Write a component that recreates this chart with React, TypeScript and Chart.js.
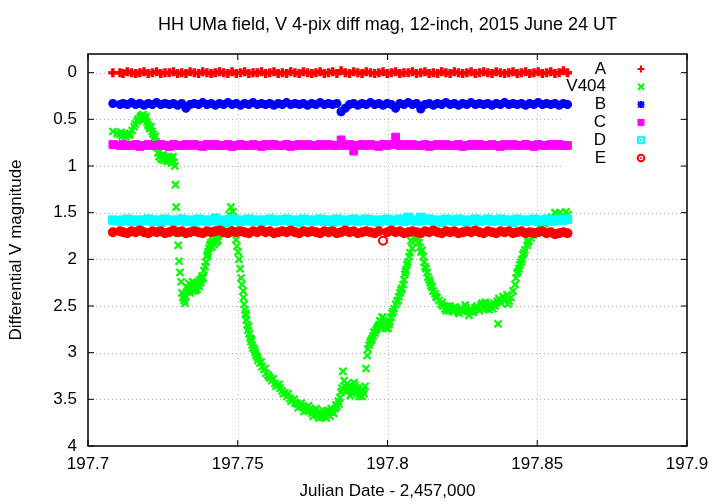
import React, { useEffect, useRef } from 'react';
import { Chart, registerables } from 'chart.js';

Chart.register(...registerables);

const TITLE = 'HH UMa field, V 4-pix diff mag, 12-inch, 2015 June 24 UT';
const X_TITLE = 'Julian Date - 2,457,000';
const Y_TITLE = 'Differential V magnitude';

const xTicks = [197.7, 197.75, 197.8, 197.85, 197.9];
const xTickLabels = ['197.7', '197.75', '197.8', '197.85', '197.9'];
const yTicks = [0, 0.5, 1, 1.5, 2, 2.5, 3, 3.5, 4];
const yTickLabels = ['0', '0.5', '1', '1.5', '2', '2.5', '3', '3.5', '4'];

const seriesNames = ['A', 'V404', 'B', 'C', 'D', 'E'];
const seriesColors = ['#ff0000', '#00ff00', '#0000ff', '#ff00ff', '#00ffff', '#ff0000'];

// observation times of the comparison-star measurements (JD - 2,457,000)
const compTimes = [
  197.7083, 197.7107, 197.7117, 197.7131, 197.7145, 197.7159, 197.7173, 197.7187, 197.7201, 197.7215,
  197.7229, 197.7243, 197.7257, 197.7271, 197.7285, 197.7299, 197.7313, 197.7327, 197.7341, 197.7355,
  197.7369, 197.7383, 197.7397, 197.7411, 197.7425, 197.7439, 197.7453, 197.7467, 197.7481, 197.7495,
  197.7509, 197.7523, 197.7537, 197.7551, 197.7565, 197.7579, 197.7593, 197.7607, 197.7621, 197.7635,
  197.7649, 197.7663, 197.7677, 197.7691, 197.7705, 197.7719, 197.7733, 197.7747, 197.7761, 197.7775,
  197.7789, 197.7803, 197.7817, 197.7831, 197.7845, 197.7859, 197.7873, 197.7887, 197.7901, 197.7915,
  197.7929, 197.7943, 197.7957, 197.7971, 197.7985, 197.7999, 197.8013, 197.8027, 197.8041, 197.8055,
  197.8069, 197.8083, 197.8097, 197.8111, 197.8125, 197.8139, 197.8153, 197.8167, 197.8181, 197.8195,
  197.8209, 197.8223, 197.8237, 197.8251, 197.8265, 197.8279, 197.8293, 197.8307, 197.8321, 197.8335,
  197.8349, 197.8363, 197.8377, 197.8391, 197.8405, 197.8419, 197.8433, 197.8447, 197.8461, 197.8475,
  197.8489, 197.8503, 197.8517, 197.8531, 197.8545, 197.8559, 197.8573, 197.8587, 197.8601,
];

const magA = [
  0.00, 0.00, 0.01, -0.01, 0.00, 0.01, 0.00, -0.01, 0.01, 0.00,
  -0.01, 0.01, 0.00, 0.00, -0.01, 0.01, 0.00, 0.01, -0.01, 0.00,
  0.01, -0.01, 0.00, 0.01, 0.00, -0.01, 0.00, 0.01, -0.01, 0.01,
  0.00, -0.01, 0.01, 0.00, 0.00, -0.01, 0.01, 0.00, -0.01, 0.01,
  0.00, 0.01, -0.01, 0.00, 0.01, -0.01, 0.00, 0.01, 0.00, -0.01,
  0.01, 0.00, -0.01, 0.01, -0.02, 0.00, 0.01, -0.01, 0.00, 0.01,
  -0.01, 0.00, 0.01, 0.00, -0.01, 0.01, 0.00, -0.01, 0.01, 0.00,
  0.00, -0.01, 0.01, 0.00, -0.01, 0.01, 0.00, 0.01, -0.01, 0.00,
  0.01, -0.01, 0.00, 0.01, 0.00, -0.01, 0.01, 0.00, -0.01, 0.00,
  0.01, -0.01, 0.00, 0.01, 0.00, -0.01, 0.01, 0.00, -0.01, 0.01,
  0.00, -0.01, 0.01, 0.00, -0.01, 0.01, 0.00, -0.02, 0.00,
];

const magB = [
  0.33, 0.34, 0.33, 0.34, 0.32, 0.34, 0.33, 0.35, 0.33, 0.34,
  0.32, 0.34, 0.33, 0.34, 0.33, 0.35, 0.33, 0.38, 0.34, 0.33,
  0.34, 0.32, 0.34, 0.33, 0.35, 0.33, 0.34, 0.32, 0.34, 0.33,
  0.35, 0.33, 0.34, 0.32, 0.34, 0.33, 0.34, 0.33, 0.35, 0.33,
  0.34, 0.32, 0.34, 0.33, 0.34, 0.33, 0.35, 0.33, 0.34, 0.32,
  0.34, 0.33, 0.34, 0.33, 0.42, 0.38, 0.34, 0.33, 0.35, 0.33,
  0.34, 0.32, 0.34, 0.33, 0.35, 0.33, 0.34, 0.38, 0.33, 0.34,
  0.32, 0.34, 0.33, 0.39, 0.34, 0.33, 0.35, 0.33, 0.34, 0.32,
  0.34, 0.33, 0.35, 0.33, 0.34, 0.32, 0.34, 0.33, 0.34, 0.33,
  0.35, 0.33, 0.34, 0.32, 0.34, 0.33, 0.34, 0.33, 0.35, 0.33,
  0.34, 0.32, 0.34, 0.33, 0.34, 0.33, 0.35, 0.33, 0.34,
];

const magC = [
  0.77, 0.78, 0.77, 0.78, 0.78, 0.77, 0.79, 0.78, 0.77, 0.78,
  0.78, 0.77, 0.78, 0.79, 0.77, 0.78, 0.78, 0.77, 0.78, 0.77,
  0.78, 0.79, 0.77, 0.78, 0.77, 0.78, 0.78, 0.77, 0.79, 0.78,
  0.77, 0.78, 0.78, 0.77, 0.78, 0.79, 0.77, 0.78, 0.77, 0.78,
  0.78, 0.77, 0.79, 0.78, 0.77, 0.78, 0.77, 0.78, 0.78, 0.77,
  0.78, 0.77, 0.78, 0.78, 0.72, 0.78, 0.77, 0.84, 0.78, 0.77,
  0.78, 0.77, 0.78, 0.79, 0.77, 0.78, 0.77, 0.69, 0.78, 0.77,
  0.78, 0.77, 0.78, 0.78, 0.77, 0.79, 0.78, 0.77, 0.78, 0.77,
  0.78, 0.78, 0.77, 0.79, 0.78, 0.77, 0.78, 0.77, 0.78, 0.78,
  0.77, 0.78, 0.79, 0.77, 0.78, 0.77, 0.78, 0.78, 0.77, 0.78,
  0.79, 0.77, 0.78, 0.78, 0.77, 0.78, 0.77, 0.78, 0.78,
];

const magD = [
  1.58, 1.59, 1.58, 1.57, 1.59, 1.58, 1.60, 1.58, 1.57, 1.59,
  1.58, 1.60, 1.57, 1.58, 1.59, 1.58, 1.57, 1.59, 1.58, 1.60,
  1.57, 1.58, 1.59, 1.58, 1.56, 1.59, 1.58, 1.60, 1.57, 1.58,
  1.59, 1.58, 1.57, 1.59, 1.58, 1.60, 1.58, 1.57, 1.59, 1.58,
  1.58, 1.57, 1.59, 1.58, 1.60, 1.57, 1.58, 1.59, 1.58, 1.57,
  1.59, 1.58, 1.60, 1.57, 1.58, 1.59, 1.58, 1.57, 1.59, 1.58,
  1.57, 1.59, 1.58, 1.60, 1.58, 1.57, 1.59, 1.58, 1.57, 1.59,
  1.55, 1.58, 1.59, 1.55, 1.58, 1.57, 1.59, 1.58, 1.60, 1.57,
  1.58, 1.59, 1.57, 1.58, 1.60, 1.58, 1.57, 1.59, 1.58, 1.57,
  1.59, 1.58, 1.57, 1.59, 1.58, 1.60, 1.57, 1.58, 1.59, 1.58,
  1.57, 1.59, 1.58, 1.57, 1.59, 1.58, 1.57, 1.58, 1.57,
];

const magE = [
  1.71, 1.70, 1.71, 1.72, 1.70, 1.71, 1.69, 1.71, 1.72, 1.70,
  1.71, 1.70, 1.72, 1.71, 1.69, 1.71, 1.70, 1.72, 1.71, 1.70,
  1.71, 1.72, 1.70, 1.71, 1.70, 1.69, 1.71, 1.72, 1.70, 1.71,
  1.70, 1.71, 1.72, 1.70, 1.71, 1.69, 1.71, 1.70, 1.72, 1.71,
  1.70, 1.71, 1.69, 1.71, 1.72, 1.70, 1.71, 1.70, 1.71, 1.72,
  1.70, 1.71, 1.70, 1.72, 1.71, 1.69, 1.71, 1.70, 1.72, 1.71,
  1.70, 1.71, 1.72, 1.70, 1.80, 1.71, 1.69, 1.71, 1.70, 1.72,
  1.71, 1.70, 1.71, 1.72, 1.70, 1.71, 1.69, 1.71, 1.72, 1.70,
  1.71, 1.70, 1.72, 1.71, 1.70, 1.71, 1.69, 1.71, 1.72, 1.70,
  1.71, 1.72, 1.70, 1.71, 1.70, 1.72, 1.71, 1.70, 1.72, 1.71,
  1.72, 1.71, 1.70, 1.72, 1.71, 1.73, 1.72, 1.71, 1.72,
];

// V404 measurements: [JD - 2,457,000, differential V magnitude]
const v404Points: [number, number][] = [
  [197.7083, 0.63], [197.7097, 0.65], [197.7107, 0.66], [197.7114, 0.68], [197.7120, 0.67], [197.7127, 0.69],
  [197.7134, 0.66], [197.7140, 0.65], [197.7147, 0.62], [197.7154, 0.58], [197.7157, 0.55], [197.7164, 0.52],
  [197.7167, 0.50], [197.7174, 0.48], [197.7177, 0.46], [197.7184, 0.45], [197.7187, 0.48], [197.7190, 0.50],
  [197.7194, 0.47], [197.7197, 0.53], [197.7200, 0.56], [197.7207, 0.60], [197.7210, 0.58], [197.7214, 0.63],
  [197.7217, 0.66], [197.7220, 0.70], [197.7224, 0.68], [197.7227, 0.74], [197.7230, 0.80], [197.7234, 0.86],
  [197.7237, 0.90], [197.7244, 0.92], [197.7250, 0.88], [197.7254, 0.94], [197.7260, 0.91], [197.7264, 0.95],
  [197.7270, 0.90], [197.7274, 0.93], [197.7280, 0.97], [197.7284, 0.90], [197.7287, 0.96], [197.7290, 1.00],
  [197.7292, 1.20], [197.7294, 1.44], [197.7297, 1.58], [197.7299, 1.72], [197.7301, 1.85], [197.7304, 2.02],
  [197.7307, 2.14], [197.7311, 2.24], [197.7314, 2.36], [197.7317, 2.41], [197.7321, 2.44], [197.7324, 2.47],
  [197.7327, 2.40], [197.7331, 2.30], [197.7334, 2.33], [197.7337, 2.26], [197.7341, 2.36], [197.7344, 2.30],
  [197.7347, 2.28], [197.7351, 2.34], [197.7354, 2.25], [197.7357, 2.30], [197.7361, 2.27], [197.7364, 2.32],
  [197.7367, 2.24], [197.7371, 2.29], [197.7374, 2.22], [197.7377, 2.25], [197.7381, 2.18], [197.7384, 2.20],
  [197.7387, 2.12], [197.7391, 2.08], [197.7394, 2.03], [197.7397, 1.97], [197.7401, 1.92], [197.7404, 1.88],
  [197.7407, 1.85], [197.7411, 1.82], [197.7414, 1.87], [197.7417, 1.80], [197.7421, 1.84], [197.7424, 1.78],
  [197.7427, 1.82], [197.7431, 1.76], [197.7434, 1.80], [197.7437, 1.73], [197.7444, 1.70], [197.7451, 1.66],
  [197.7457, 1.62], [197.7464, 1.58], [197.7471, 1.52], [197.7477, 1.44], [197.7484, 1.49], [197.7487, 1.58],
  [197.7491, 1.68], [197.7494, 1.79], [197.7497, 1.86], [197.7501, 1.92], [197.7504, 2.00], [197.7508, 2.10],
  [197.7511, 2.20], [197.7514, 2.27], [197.7518, 2.34], [197.7519, 2.41], [197.7521, 2.48], [197.7524, 2.54],
  [197.7528, 2.60], [197.7529, 2.65], [197.7531, 2.70], [197.7534, 2.76], [197.7538, 2.80], [197.7541, 2.84],
  [197.7544, 2.88], [197.7548, 2.92], [197.7551, 2.95], [197.7558, 3.00], [197.7561, 3.03], [197.7568, 3.08],
  [197.7574, 3.11], [197.7581, 3.15], [197.7588, 3.18], [197.7594, 3.22], [197.7601, 3.24], [197.7608, 3.27],
  [197.7614, 3.30], [197.7624, 3.33], [197.7631, 3.35], [197.7641, 3.38], [197.7648, 3.41], [197.7658, 3.43],
  [197.7664, 3.47], [197.7674, 3.49], [197.7681, 3.51], [197.7691, 3.54], [197.7698, 3.55], [197.7708, 3.57],
  [197.7715, 3.58], [197.7725, 3.59], [197.7731, 3.62], [197.7741, 3.60], [197.7748, 3.65], [197.7758, 3.63],
  [197.7765, 3.67], [197.7775, 3.64], [197.7781, 3.69], [197.7791, 3.66], [197.7798, 3.62], [197.7808, 3.68],
  [197.7815, 3.63], [197.7825, 3.60], [197.7831, 3.58], [197.7838, 3.55], [197.7841, 3.48], [197.7845, 3.42],
  [197.7851, 3.20], [197.7855, 3.30], [197.7858, 3.36], [197.7865, 3.33], [197.7868, 3.40], [197.7875, 3.46],
  [197.7878, 3.40], [197.7885, 3.37], [197.7888, 3.32], [197.7891, 3.35], [197.7898, 3.42], [197.7902, 3.38],
  [197.7908, 3.44], [197.7915, 3.47], [197.7918, 3.41], [197.7922, 3.44], [197.7925, 3.36], [197.7928, 3.17],
  [197.7932, 3.03], [197.7935, 2.96], [197.7938, 2.92], [197.7942, 2.89], [197.7948, 2.85], [197.7952, 2.82],
  [197.7958, 2.79], [197.7965, 2.74], [197.7968, 2.72], [197.7975, 2.66], [197.7978, 2.70], [197.7982, 2.62],
  [197.7988, 2.66], [197.7992, 2.72], [197.7998, 2.68], [197.8002, 2.74], [197.8008, 2.67], [197.8012, 2.62],
  [197.8015, 2.58], [197.8022, 2.53], [197.8028, 2.48], [197.8035, 2.44], [197.8038, 2.40], [197.8042, 2.36],
  [197.8048, 2.31], [197.8052, 2.27], [197.8055, 2.22], [197.8058, 2.16], [197.8062, 2.11], [197.8065, 2.06],
  [197.8068, 2.03], [197.8072, 1.97], [197.8075, 1.93], [197.8078, 1.80], [197.8082, 1.88], [197.8085, 1.82],
  [197.8088, 1.78], [197.8095, 1.75], [197.8102, 1.77], [197.8105, 1.82], [197.8109, 1.87], [197.8112, 1.92],
  [197.8119, 1.97], [197.8122, 2.03], [197.8125, 2.08], [197.8132, 2.14], [197.8135, 2.19], [197.8142, 2.25],
  [197.8145, 2.28], [197.8152, 2.34], [197.8159, 2.37], [197.8165, 2.41], [197.8172, 2.44], [197.8179, 2.48],
  [197.8185, 2.50], [197.8192, 2.53], [197.8199, 2.50], [197.8205, 2.55], [197.8212, 2.52], [197.8219, 2.56],
  [197.8225, 2.51], [197.8232, 2.54], [197.8239, 2.58], [197.8245, 2.52], [197.8252, 2.56], [197.8259, 2.49],
  [197.8265, 2.55], [197.8272, 2.60], [197.8279, 2.53], [197.8285, 2.57], [197.8292, 2.52], [197.8299, 2.50],
  [197.8306, 2.55], [197.8312, 2.49], [197.8319, 2.52], [197.8326, 2.46], [197.8332, 2.50], [197.8339, 2.54],
  [197.8346, 2.48], [197.8352, 2.53], [197.8359, 2.50], [197.8366, 2.45], [197.8369, 2.69], [197.8372, 2.42],
  [197.8379, 2.47], [197.8386, 2.40], [197.8392, 2.44], [197.8399, 2.38], [197.8406, 2.45], [197.8412, 2.41],
  [197.8419, 2.34], [197.8426, 2.27], [197.8429, 2.20], [197.8432, 2.15], [197.8439, 2.10], [197.8442, 2.06],
  [197.8449, 2.00], [197.8452, 1.95], [197.8459, 1.90], [197.8466, 1.85], [197.8472, 1.80], [197.8479, 1.77],
  [197.8486, 1.74], [197.8496, 1.70], [197.8509, 1.66], [197.8523, 1.62], [197.8536, 1.58], [197.8549, 1.55],
  [197.8559, 1.50], [197.8566, 1.52], [197.8576, 1.50], [197.8586, 1.53], [197.8596, 1.49], [197.8603, 1.52],
  [197.7526, 2.58], [197.7536, 2.72], [197.7546, 2.86], [197.7556, 2.97], [197.7566, 3.05], [197.7578, 3.10],
  [197.7591, 3.17], [197.7604, 3.26], [197.7618, 3.28], [197.7628, 3.36], [197.7638, 3.34], [197.7652, 3.44],
  [197.7668, 3.44], [197.7678, 3.52], [197.7688, 3.50], [197.7702, 3.59], [197.7712, 3.54], [197.7721, 3.63],
  [197.7736, 3.57], [197.7745, 3.62], [197.7752, 3.68], [197.7761, 3.60], [197.7771, 3.70], [197.7785, 3.62],
  [197.7795, 3.70], [197.7803, 3.64], [197.7812, 3.60], [197.7820, 3.65], [197.7828, 3.56], [197.7836, 3.52],
  [197.7848, 3.38], [197.7862, 3.42], [197.7872, 3.36], [197.7882, 3.44], [197.7895, 3.38], [197.7905, 3.47],
  [197.7912, 3.40], [197.7945, 2.87], [197.7955, 2.78], [197.7962, 2.76], [197.7972, 2.70], [197.7985, 2.62],
  [197.7995, 2.74], [197.8005, 2.70], [197.8018, 2.56], [197.8032, 2.45], [197.8045, 2.33], [197.8060, 2.13],
  [197.8182, 2.46], [197.8196, 2.55], [197.8209, 2.50], [197.8222, 2.53], [197.8236, 2.56], [197.8249, 2.54],
  [197.8262, 2.52], [197.8276, 2.56], [197.8289, 2.55], [197.8302, 2.52], [197.8316, 2.47], [197.8329, 2.53],
  [197.8342, 2.50], [197.8356, 2.47], [197.8376, 2.44], [197.8389, 2.42], [197.8402, 2.48], [197.8115, 1.90],
  [197.8128, 2.10], [197.8139, 2.22], [197.8149, 2.30], [197.8162, 2.40], [197.8436, 2.13], [197.8446, 2.03],
  [197.8456, 1.93], [197.8469, 1.82], [197.7329, 2.35], [197.7339, 2.31], [197.7349, 2.24], [197.7359, 2.33],
  [197.7369, 2.27], [197.7379, 2.21], [197.7399, 1.95], [197.7409, 1.84], [197.7419, 1.83], [197.7429, 1.79],
  [197.7110, 0.64], [197.7124, 0.66], [197.7137, 0.67], [197.7180, 0.48], [197.7204, 0.58], [197.7240, 0.89],
  [197.7247, 0.93], [197.7257, 0.91], [197.7267, 0.92], [197.7277, 0.95],
];

const FONT = "'Liberation Sans', Arial, Helvetica, sans-serif";
const TEXT_SIZE = 17;

function drawLegendMarker(ctx: CanvasRenderingContext2D, idx: number, cx: number, cy: number) {
  const c = seriesColors[idx];
  ctx.save();
  ctx.strokeStyle = c;
  ctx.fillStyle = c;
  ctx.lineWidth = 2;
  ctx.beginPath();
  if (idx === 0) {
    ctx.moveTo(cx - 3.5, cy); ctx.lineTo(cx + 3.5, cy);
    ctx.moveTo(cx, cy - 3.5); ctx.lineTo(cx, cy + 3.5);
    ctx.stroke();
  } else if (idx === 1) {
    ctx.moveTo(cx - 3, cy - 3); ctx.lineTo(cx + 3, cy + 3);
    ctx.moveTo(cx - 3, cy + 3); ctx.lineTo(cx + 3, cy - 3);
    ctx.stroke();
  } else if (idx === 2) {
    ctx.moveTo(cx - 3.5, cy); ctx.lineTo(cx + 3.5, cy);
    ctx.moveTo(cx, cy - 3.5); ctx.lineTo(cx, cy + 3.5);
    ctx.moveTo(cx - 3, cy - 3); ctx.lineTo(cx + 3, cy + 3);
    ctx.moveTo(cx - 3, cy + 3); ctx.lineTo(cx + 3, cy - 3);
    ctx.stroke();
  } else if (idx === 3) {
    ctx.fillRect(cx - 3.5, cy - 3.5, 7, 7);
  } else if (idx === 4) {
    ctx.strokeRect(cx - 3, cy - 3, 6, 6);
    ctx.fillRect(cx - 1, cy - 1, 2, 2);
  } else {
    ctx.arc(cx, cy, 3.3, 0, Math.PI * 2);
    ctx.stroke();
    ctx.beginPath();
    ctx.arc(cx, cy, 1, 0, Math.PI * 2);
    ctx.fill();
  }
  ctx.restore();
}

const decorPlugin = {
  id: 'gnuplotDecor',
  beforeDatasetsDraw(chart: any) {
    const { ctx, chartArea, scales } = chart;
    const { left, right, top, bottom } = chartArea;
    ctx.save();
    ctx.strokeStyle = '#b0b0b0';
    ctx.lineWidth = 1;
    ctx.setLineDash([1, 3]);
    xTicks.forEach((v) => {
      const px = Math.round(scales.x.getPixelForValue(v)) + 0.5;
      if (px <= left + 1 || px >= right - 1) return;
      ctx.beginPath(); ctx.moveTo(px, top); ctx.lineTo(px, bottom); ctx.stroke();
    });
    yTicks.forEach((v) => {
      const py = Math.round(scales.y.getPixelForValue(v)) + 0.5;
      if (py <= top + 1 || py >= bottom - 1) return;
      ctx.beginPath(); ctx.moveTo(left, py); ctx.lineTo(right, py); ctx.stroke();
    });
    ctx.setLineDash([]);
    // opaque key background
    ctx.fillStyle = '#ffffff';
    ctx.fillRect(563, 57, 117, 111);
    ctx.restore();
  },
  afterDatasetsDraw(chart: any) {
    const { ctx, chartArea, scales } = chart;
    const { left, right, top, bottom } = chartArea;
    ctx.save();
    // inward ticks on all four sides
    ctx.strokeStyle = '#000000';
    ctx.lineWidth = 1;
    const tl = 6;
    xTicks.forEach((v) => {
      const px = scales.x.getPixelForValue(v);
      ctx.beginPath();
      ctx.moveTo(px, bottom); ctx.lineTo(px, bottom - tl);
      ctx.moveTo(px, top); ctx.lineTo(px, top + tl);
      ctx.stroke();
    });
    yTicks.forEach((v) => {
      const py = scales.y.getPixelForValue(v);
      ctx.beginPath();
      ctx.moveTo(left, py); ctx.lineTo(left + tl, py);
      ctx.moveTo(right, py); ctx.lineTo(right - tl, py);
      ctx.stroke();
    });
    // border
    ctx.lineWidth = 1.5;
    ctx.strokeRect(left, top, right - left, bottom - top);

    // legend (key)
    ctx.fillStyle = '#000000';
    ctx.font = `${TEXT_SIZE}px ${FONT}`;
    ctx.textAlign = 'right';
    ctx.textBaseline = 'middle';
    seriesNames.forEach((name, i) => {
      const cy = 69 + i * 17.8;
      ctx.fillText(name, 606, cy);
      drawLegendMarker(ctx, i, 641, cy);
    });

    // titles
    ctx.textAlign = 'center';
    ctx.font = `18px ${FONT}`;
    ctx.fillText(TITLE, (left + right) / 2, 25);
    ctx.font = `${TEXT_SIZE}px ${FONT}`;
    ctx.fillText(X_TITLE, (left + right) / 2, 491);
    ctx.translate(16, (top + bottom) / 2);
    ctx.rotate(-Math.PI / 2);
    ctx.fillText(Y_TITLE, 0, 0);
    ctx.restore();
  },
};

export default function App() {
  const canvasRef = useRef<HTMLCanvasElement | null>(null);

  useEffect(() => {
    document.body.style.margin = '0';
    const canvas = canvasRef.current;
    if (!canvas) return;
    Chart.defaults.font.family = FONT;
    Chart.defaults.font.size = TEXT_SIZE;
    Chart.defaults.color = '#000000';

    const toXY = (mags: number[]) => mags.map((m, i) => ({ x: compTimes[i], y: m }));
    const eFill = (c: any) => (c.raw && Math.abs(c.raw.y - 1.705) > 0.05 ? '#ffffff' : seriesColors[5]);

    const chart = new Chart(canvas, {
      type: 'scatter',
      data: {
        datasets: [
          {
            label: seriesNames[0], data: toXY(magA), pointStyle: 'cross', pointRadius: 4.5,
            borderColor: seriesColors[0], backgroundColor: seriesColors[0], pointBorderWidth: 3.5, order: 5,
          },
          {
            label: seriesNames[1], data: v404Points.map(([x, y]) => ({ x, y })), pointStyle: 'crossRot', pointRadius: 5,
            borderColor: seriesColors[1], backgroundColor: seriesColors[1], pointBorderWidth: 2.2, order: 4,
          },
          {
            label: seriesNames[2], data: toXY(magB), pointStyle: 'star', pointRadius: 4.5,
            borderColor: seriesColors[2], backgroundColor: seriesColors[2], pointBorderWidth: 3, order: 3,
          },
          {
            label: seriesNames[3], data: toXY(magC), pointStyle: 'rect', pointRadius: 5.5,
            borderColor: seriesColors[3], backgroundColor: seriesColors[3], pointBorderWidth: 1, order: 2,
          },
          {
            label: seriesNames[4], data: toXY(magD), pointStyle: 'rect', pointRadius: 6,
            borderColor: seriesColors[4], backgroundColor: seriesColors[4], pointBorderWidth: 1, order: 1,
          },
          {
            label: seriesNames[5], data: toXY(magE), pointStyle: 'circle', pointRadius: 4,
            borderColor: seriesColors[5], backgroundColor: seriesColors[5], pointBackgroundColor: eFill,
            pointBorderWidth: 2, order: 0,
          },
        ],
      },
      options: {
        animation: false,
        responsive: false,
        devicePixelRatio: 1,
        events: [],
        layout: { padding: { left: 0, right: 33, top: 54, bottom: 0 } },
        plugins: {
          legend: { display: false },
          title: { display: false },
          tooltip: { enabled: false },
        },
        scales: {
          x: {
            type: 'linear',
            position: 'bottom',
            min: 197.7,
            max: 197.9,
            afterFit: (s: any) => { s.height = 58; },
            afterBuildTicks: (s: any) => { s.ticks = xTicks.map((v) => ({ value: v })); },
            ticks: {
              autoSkip: false,
              maxRotation: 0,
              padding: 8,
              color: '#000000',
              font: { size: TEXT_SIZE, family: FONT },
              callback: (_v: any, i: number) => xTickLabels[i],
            },
            grid: { display: false, drawTicks: false },
            border: { display: false },
          },
          y: {
            type: 'linear',
            position: 'left',
            reverse: true,
            min: -0.2,
            max: 4,
            afterFit: (s: any) => { s.width = 88; },
            afterBuildTicks: (s: any) => { s.ticks = yTicks.map((v) => ({ value: v })); },
            ticks: {
              autoSkip: false,
              padding: 11,
              color: '#000000',
              font: { size: TEXT_SIZE, family: FONT },
              callback: (_v: any, i: number) => yTickLabels[i],
            },
            grid: { display: false, drawTicks: false },
            border: { display: false },
          },
        },
      },
      plugins: [decorPlugin],
    });

    return () => chart.destroy();
  }, []);

  return (
    <div style={{ position: 'fixed', left: 0, top: 0, width: 720, height: 504, background: '#ffffff' }}>
      <canvas ref={canvasRef} width={720} height={504} style={{ width: 720, height: 504, display: 'block' }} />
    </div>
  );
}
